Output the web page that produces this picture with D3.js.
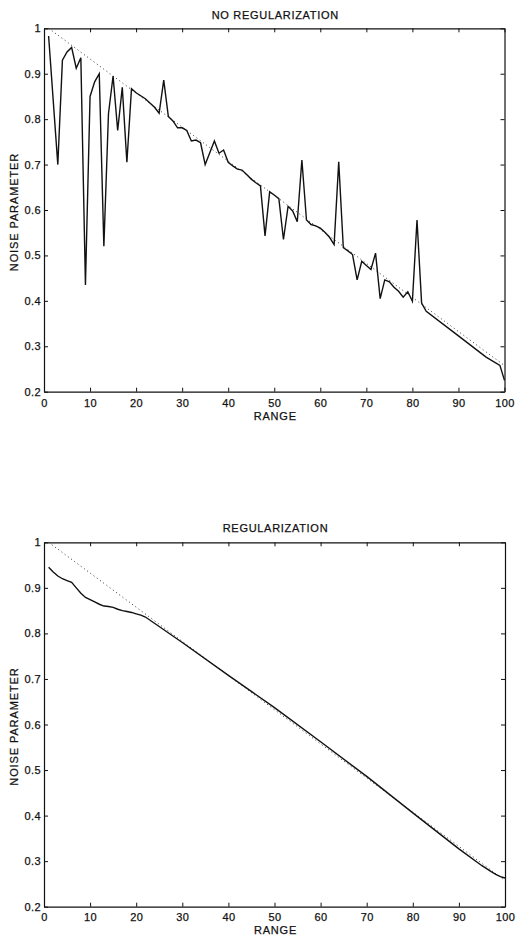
<!DOCTYPE html>
<html>
<head>
<meta charset="utf-8">
<script src="https://cdn.jsdelivr.net/npm/d3@7"></script>
<style>
  html, body { margin: 0; padding: 0; background: #fff; }
  svg { display: block; }
  text { font-family: "Liberation Sans", Arial, Helvetica, sans-serif; fill: #111; stroke: #111; stroke-width: 0.25px; }
</style>
</head>
<body>
<svg id="chart" width="516" height="938"></svg>
<script>
// ---- data ----
const xTicks = [0, 10, 20, 30, 40, 50, 60, 70, 80, 90, 100];
const yTicks = [0.2, 0.3, 0.4, 0.5, 0.6, 0.7, 0.8, 0.9, 1];
const yTickLabels = ["0.2", "0.3", "0.4", "0.5", "0.6", "0.7", "0.8", "0.9", "1"];

const titles = ["NO REGULARIZATION", "REGULARIZATION"];
const xLabel = "RANGE";
const yLabel = "NOISE PARAMETER";

// true (reference) noise parameter: straight line between its end points
const trueRange = [1, 100];
const trueValue = [1.0, 0.2575];

// estimate without regularization
const noRegRange = [1, 3, 4, 5, 6, 7, 8, 9, 10, 11, 12, 13, 14, 15, 16, 17, 18, 19, 20, 22, 24,
  25, 26, 27, 28, 29, 30, 31, 32, 33, 34, 35, 36, 37, 38, 39, 40, 41, 42, 43, 44, 45, 46, 47,
  48, 49, 50, 51, 52, 53, 54, 55, 56, 57, 58, 59, 60, 61, 62, 63, 64, 65, 66, 67, 68, 69, 70,
  71, 72, 73, 74, 75, 76, 77, 78, 79, 80, 81, 82, 83, 90, 96, 99, 100];
const noRegValue = [0.983, 0.700, 0.930, 0.948, 0.958, 0.912, 0.935, 0.435, 0.850, 0.882, 0.900,
  0.520, 0.812, 0.895, 0.775, 0.870, 0.705, 0.867, 0.858, 0.845, 0.826,
  0.813, 0.886, 0.806, 0.796, 0.781, 0.781, 0.775, 0.752, 0.754, 0.748, 0.700, 0.726, 0.752,
  0.725, 0.732, 0.705, 0.697, 0.690, 0.688, 0.678, 0.668, 0.660, 0.653,
  0.543, 0.640, 0.633, 0.625, 0.535, 0.608, 0.598, 0.574, 0.710, 0.578, 0.568, 0.565, 0.560,
  0.551, 0.540, 0.524, 0.706, 0.517, 0.510, 0.502, 0.446, 0.487, 0.478,
  0.469, 0.505, 0.405, 0.446, 0.442, 0.430, 0.421, 0.408, 0.420, 0.399, 0.578, 0.395, 0.377,
  0.323, 0.276, 0.258, 0.225];

// estimate with regularization
const regRange = [1, 2, 3, 4, 5, 6, 7, 8, 9, 10, 11, 12, 13, 14, 15, 16, 17, 18, 19, 20, 21, 22,
  30, 40, 50, 60, 70, 80, 90, 95, 97, 98, 99, 100];
const regValue = [0.945, 0.935, 0.926, 0.920, 0.916, 0.912, 0.900, 0.888, 0.879, 0.874, 0.869,
  0.864, 0.860, 0.859, 0.857, 0.853, 0.850, 0.848, 0.846, 0.843, 0.840, 0.836,
  0.780, 0.708, 0.637, 0.562, 0.486, 0.406, 0.327, 0.290, 0.277, 0.271, 0.266, 0.263];

// ---- drawing ----
const svg = d3.select("#chart");

const panels = [
  { title: titles[0], top: 28.3, bottom: 391.7, left: 44, right: 504.5,
    xs: noRegRange, ys: noRegValue, titleY: 19, tickY: 7.5, labelY: 420 },
  { title: titles[1], top: 542.3, bottom: 906.7, left: 44, right: 505,
    xs: regRange, ys: regValue, titleY: 531.5, tickY: 6.5, labelY: 934 }
];

panels.forEach(p => {
  const x = d3.scaleLinear().domain([0, 100]).range([p.left, p.right]);
  const y = d3.scaleLinear().domain([0.2, 1]).range([p.bottom, p.top]);
  const g = svg.append("g");

  // axes (inward ticks on all four sides)
  const axB = g.append("g").attr("transform", `translate(0,${p.bottom})`)
    .call(d3.axisBottom(x).tickValues(xTicks).tickSize(-4).tickSizeOuter(0).tickPadding(p.tickY)
      .tickFormat(d3.format("d")));
  const axT = g.append("g").attr("transform", `translate(0,${p.top})`)
    .call(d3.axisTop(x).tickValues(xTicks).tickSize(-4).tickSizeOuter(0).tickFormat(""));
  const axL = g.append("g").attr("transform", `translate(${p.left},0)`)
    .call(d3.axisLeft(y).tickValues(yTicks).tickSize(-4).tickSizeOuter(0).tickPadding(3)
      .tickFormat((d, i) => yTickLabels[i]));
  const axR = g.append("g").attr("transform", `translate(${p.right},0)`)
    .call(d3.axisRight(y).tickValues(yTicks).tickSize(-4).tickSizeOuter(0).tickFormat(""));

  [axB, axT, axL, axR].forEach(a => {
    a.selectAll("path.domain").attr("stroke", "#111").attr("stroke-width", 1.2);
    a.selectAll(".tick line").attr("stroke", "#111").attr("stroke-width", 1);
    a.selectAll("text").style("font-family", '"Liberation Sans", Arial, sans-serif')
      .style("font-size", "11px").style("letter-spacing", "0.4px")
      .attr("fill", "#111").attr("stroke", "#111").attr("stroke-width", 0.25);
  });

  // true line (dotted)
  const line = d3.line().x(d => x(d[0])).y(d => y(d[1]));
  g.append("path")
    .datum(trueRange.map((r, i) => [r, trueValue[i]]))
    .attr("d", line)
    .attr("fill", "none")
    .attr("stroke", "#333")
    .attr("stroke-width", 1)
    .attr("stroke-dasharray", "1,3");

  // estimate (solid)
  g.append("path")
    .datum(p.xs.map((r, i) => [r, p.ys[i]]))
    .attr("d", line)
    .attr("fill", "none")
    .attr("stroke", "#111")
    .attr("stroke-width", 1.4)
    .attr("stroke-linejoin", "miter");

  // title
  g.append("text")
    .attr("x", (p.left + p.right) / 2 + 1)
    .attr("y", p.titleY)
    .attr("text-anchor", "middle")
    .style("font-size", "11px")
    .style("letter-spacing", "0.7px")
    .text(p.title);

  // x label
  g.append("text")
    .attr("x", (p.left + p.right) / 2 + 1)
    .attr("y", p.labelY)
    .attr("text-anchor", "middle")
    .style("font-size", "11px")
    .style("letter-spacing", "0.8px")
    .text(xLabel);

  // y label
  g.append("text")
    .attr("transform", `translate(18.3,${(p.top + p.bottom) / 2 + 2}) rotate(-90)`)
    .attr("text-anchor", "middle")
    .style("font-size", "11px")
    .style("letter-spacing", "0.9px")
    .text(yLabel);
});
</script>
</body>
</html>
